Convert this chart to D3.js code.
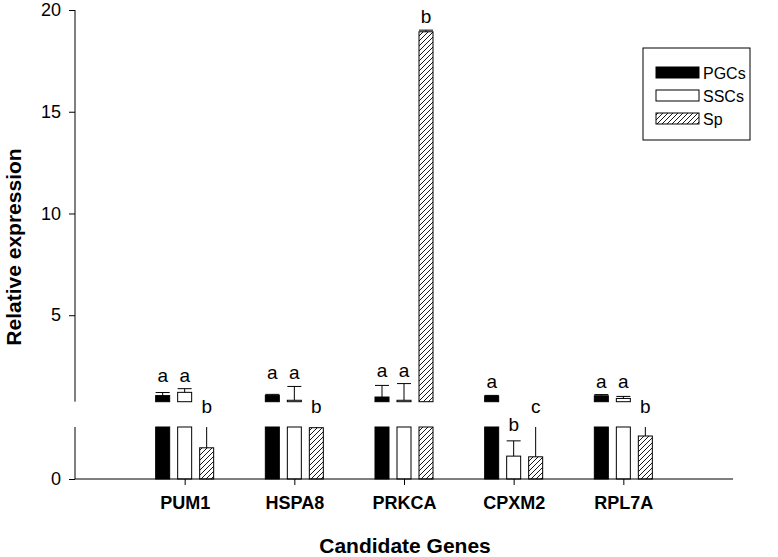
<!DOCTYPE html>
<html>
<head>
<meta charset="utf-8">
<script src="https://cdn.jsdelivr.net/npm/d3@7"></script>
<style>
  body { margin: 0; background: #fff; }
  text { font-family: "Liberation Sans", Arial, sans-serif; }
</style>
</head>
<body>
<svg id="chart"></svg>
<script>
var genes = ["PUM1", "HSPA8", "PRKCA", "CPXM2", "RPL7A"]
var series = ["PGCs", "SSCs", "Sp"]

// mean relative expression per gene, one array per cell type
var pgcs = [1.05, 1.06, 0.98, 1.03, 1.04]
var sscs = [1.21, 0.82, 0.82, 0.33, 0.91]
var sp   = [0.45, 0.74, 18.93, 0.32, 0.62]

// upper error (SE)
var pgcsErr = [0.15, 0.05, 0.57, 0.03, 0.06]
var sscsErr = [0.18, 0.68, 0.82, 0.22, 0.10]
var spErr   = [0.60, 0.10, 0.08, 0.60, 0.30]

// significance letters
var pgcsLetters = ["a", "a", "a", "a", "a"]
var sscsLetters = ["a", "a", "a", "b", "a"]
var spLetters   = ["b", "b", "b", "c", "b"]

var yTicksUpper = [5, 10, 15, 20]
var yTicksLower = [0]
var breakValue = 0.75

var width = 778, height = 557

var svg = d3.select("#chart")
  .attr("width", width)
  .attr("height", height)

var x = d3.scalePoint().domain(genes).range([75, 733]).padding(1)
var xInner = d3.scaleBand().domain(series).range([-29, 29]).paddingInner(8/22)

var yLow = d3.scaleLinear().domain([0, breakValue]).range([479, 427])
var yUp = d3.scaleLinear().domain([breakValue, 20]).range([401.7, 10])

var rows = []
genes.forEach(function(g, i) {
  rows.push({gene: g, s: "PGCs", v: pgcs[i], e: pgcsErr[i], l: pgcsLetters[i]})
  rows.push({gene: g, s: "SSCs", v: sscs[i], e: sscsErr[i], l: sscsLetters[i]})
  rows.push({gene: g, s: "Sp", v: sp[i], e: spErr[i], l: spLetters[i]})
})

// hatch pattern
var defs = svg.append("defs")
defs.append("pattern")
  .attr("id", "hatch")
  .attr("patternUnits", "userSpaceOnUse")
  .attr("width", 5).attr("height", 5)
  .append("path")
  .attr("d", "M-1,1 l2,-2 M0,5 l5,-5 M4,6 l2,-2")
  .attr("stroke", "#000").attr("stroke-width", 0.9)

function fill(s) {
  if (s == "PGCs") return "#000"
  if (s == "SSCs") return "#fff"
  return "url(#hatch)"
}

function bx(d) { return x(d.gene) + xInner(d.s) }
var bw = xInner.bandwidth()

// lower panel bars
var low = svg.append("g")
low.selectAll("rect")
  .data(rows)
  .enter().append("rect")
  .attr("x", bx)
  .attr("width", bw)
  .attr("y", function(d) { return yLow(Math.min(d.v, breakValue)) })
  .attr("height", function(d) { return yLow(0) - yLow(Math.min(d.v, breakValue)) })
  .attr("fill", function(d) { return fill(d.s) })
  .attr("stroke", "#000")
  .attr("stroke-width", 1)

// lower panel error bars (only for bars below break)
var lowErr = rows.filter(function(d) { return d.v < breakValue })
lowErr.forEach(function(d) {
  var c = bx(d) + bw / 2
  var top = d.v + d.e
  low.append("line")
    .attr("x1", c).attr("x2", c)
    .attr("y1", yLow(d.v)).attr("y2", yLow(Math.min(top, breakValue)))
    .attr("stroke", "#000")
  if (top < breakValue) {
    low.append("line")
      .attr("x1", bx(d)).attr("x2", bx(d) + bw)
      .attr("y1", yLow(top)).attr("y2", yLow(top))
      .attr("stroke", "#000")
  }
})

// upper panel
var upRows = rows.filter(function(d) { return d.v >= breakValue })
var up = svg.append("g")
up.selectAll("rect")
  .data(upRows)
  .enter().append("rect")
  .attr("x", bx)
  .attr("width", bw)
  .attr("y", function(d) { return yUp(d.v) })
  .attr("height", function(d) { return yUp(breakValue) - yUp(d.v) })
  .attr("fill", function(d) { return fill(d.s) })
  .attr("stroke", "#000")
  .attr("stroke-width", 1)

upRows.forEach(function(d) {
  var c = bx(d) + bw / 2
  var top = d.v + d.e
  up.append("line")
    .attr("x1", c).attr("x2", c)
    .attr("y1", yUp(d.v)).attr("y2", yUp(top))
    .attr("stroke", "#000")
  up.append("line")
    .attr("x1", bx(d)).attr("x2", bx(d) + bw)
    .attr("y1", yUp(top)).attr("y2", yUp(top))
    .attr("stroke", "#000")
})

// letters
function capY(d) {
  if (d.v >= breakValue) return yUp(d.v + d.e)
  if (d.v + d.e < breakValue) return yLow(d.v + d.e)
  return null
}
rows.forEach(function(d) {
  var yy
  var cy = capY(d)
  if (cy == null) {
    yy = 413
  } else if (d.v >= breakValue) {
    // align letters with neighbours sharing the same letter in the upper panel
    var mates = upRows.filter(function(o) { return o.gene == d.gene && o.l == d.l })
    var m = d3.min(mates, capY)
    yy = m - 7
  } else {
    yy = cy - 10
  }
  svg.append("text")
    .attr("x", bx(d) + bw / 2)
    .attr("y", yy)
    .attr("text-anchor", "middle")
    .attr("font-size", 19)
    .text(d.l)
})

// axes
var axisG = svg.append("g").attr("stroke", "#000").attr("stroke-width", 1)
axisG.append("line").attr("x1", 75).attr("x2", 75).attr("y1", yUp(20)).attr("y2", yUp(breakValue))
axisG.append("line").attr("x1", 75).attr("x2", 75).attr("y1", yLow(breakValue)).attr("y2", yLow(0))

var gyUp = svg.append("g").attr("transform", "translate(75,0)")
  .call(d3.axisLeft(yUp).tickValues(yTicksUpper).tickFormat(d3.format("d")).tickSize(6).tickPadding(8))
gyUp.select(".domain").remove()
var gyLow = svg.append("g").attr("transform", "translate(75,0)")
  .call(d3.axisLeft(yLow).tickValues(yTicksLower).tickFormat(d3.format("d")).tickSize(6).tickPadding(8))
gyLow.select(".domain").remove()
svg.selectAll(".tick text").attr("font-size", 18).attr("font-family", "Liberation Sans, Arial, sans-serif").attr("fill", "#000")

var gx = svg.append("g").attr("transform", "translate(0,479)")
  .call(d3.axisBottom(x).tickSize(6).tickPadding(11))
gx.select(".domain").attr("d", "M75,0H733")
gx.selectAll(".tick text")
  .attr("font-size", 18)
  .attr("font-weight", "bold")
  .attr("font-family", "Liberation Sans, Arial, sans-serif")
  .attr("fill", "#000")

svg.append("text")
  .attr("transform", "translate(21,247) rotate(-90)")
  .attr("text-anchor", "middle")
  .attr("font-size", 21)
  .attr("font-weight", "bold")
  .text("Relative expression")

svg.append("text")
  .attr("x", 405)
  .attr("y", 553)
  .attr("text-anchor", "middle")
  .attr("font-size", 21)
  .attr("font-weight", "bold")
  .text("Candidate Genes")

// legend
var lg = svg.append("g").attr("transform", "translate(643,48)")
lg.append("rect")
  .attr("width", 107).attr("height", 92)
  .attr("fill", "#fff").attr("stroke", "#000")
series.forEach(function(s, i) {
  lg.append("rect")
    .attr("x", 13).attr("y", 19 + i * 23)
    .attr("width", 43).attr("height", 11)
    .attr("fill", fill(s)).attr("stroke", "#000")
  lg.append("text")
    .attr("x", 60).attr("y", 31 + i * 23)
    .attr("font-size", 16)
    .text(s)
})
</script>
</body>
</html>
